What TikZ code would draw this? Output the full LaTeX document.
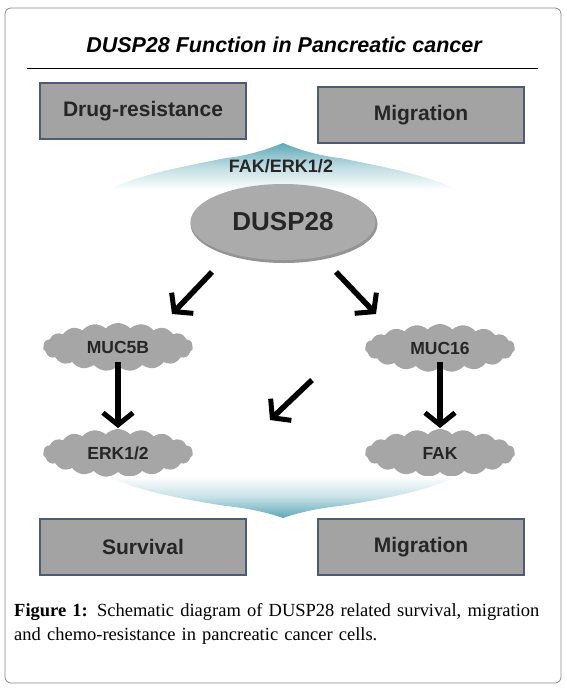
\documentclass[tikz,border=0pt]{standalone}
\usepackage{fontspec}
\setmainfont{Liberation Serif}
\setsansfont{Liberation Sans}
\usetikzlibrary{shapes.geometric,shapes.symbols,arrows.meta}
\definecolor{boxfill}{HTML}{A3A3A3}
\definecolor{boxline}{HTML}{4E5B72}
\definecolor{cloudfill}{HTML}{A6A6A6}
\definecolor{fanteal}{HTML}{5FA8B8}
\definecolor{framegray}{HTML}{8A8A8A}
\tikzset{
  outbox/.style={draw=boxline,fill=boxfill,line width=1.2pt,minimum width=206pt,minimum height=56pt,
    font=\sffamily\bfseries\fontsize{21}{24}\selectfont,text=black!85},
  cloudnode/.style={cloud,cloud puffs=19,cloud puff arc=95,aspect=3.4,fill=cloudfill,draw=none,
    minimum width=150pt,minimum height=48pt,inner sep=0pt,font=\sffamily\bfseries\fontsize{17.5}{20}\selectfont,text=black!85},
  bigarrow/.style={line width=5.5pt,-{Straight Barb[length=12pt,width=30pt,line width=5pt]}},
}
\begin{document}
\begin{tikzpicture}[x=1pt,y=-1pt]
\useasboundingbox (0,0) rectangle (566,689);
% frame
\draw[framegray,line width=0.8pt,rounded corners=6pt] (5,8) rectangle (561,683);
% title
\node[font=\sffamily\bfseries\itshape\fontsize{21.5}{25}\selectfont] (title) at (284,45) {DUSP28 Function in Pancreatic cancer};
\draw[line width=0.9pt] (27,68) -- (538,68);
% top fan
\shade[top color=fanteal,bottom color=white,middle color=fanteal!40]
  (283,143) .. controls (300,150) and (320,156) .. (340,158)
  .. controls (390,168) and (430,176) .. (457,190)
  -- (108,190) .. controls (135,176) and (175,168) .. (226,158)
  .. controls (246,156) and (266,150) .. (283,143) -- cycle;
% boxes
\node[outbox] (dr) at (143,111) {Drug-resistance};
\node[outbox] (mig1) at (421,115) {Migration};
\node[font=\sffamily\bfseries\fontsize{18}{21}\selectfont,text=black!85] (fakerk) at (281,166) {FAK/ERK1/2};
% ellipse
\node[ellipse,fill=black!42,draw=none,minimum width=187pt,minimum height=78pt] at (284,224) {};
\node[ellipse,draw=none,minimum width=185pt,minimum height=76pt,
  font=\sffamily\bfseries\fontsize{26}{30}\selectfont,text=black!85,fill=black!33] (dusp) at (283,222) {DUSP28};
% clouds
\node[cloudnode] (muc5b) at (118,347) {MUC5B};
\node[cloudnode] (muc16) at (440,348) {MUC16};
\node[cloudnode] (erk) at (118,453) {ERK1/2};
\node[cloudnode] (fak) at (440,453) {FAK};
% arrows
\coordinate (a1s) at (212,272); \coordinate (a1e) at (172,314);
\coordinate (a2s) at (336,272); \coordinate (a2e) at (376,314);
\coordinate (a3s) at (312,380); \coordinate (a3e) at (270,420);
\draw[bigarrow] (a1s) -- (a1e);
\draw[bigarrow] (a2s) -- (a2e);
\draw[bigarrow] (a3s) -- (a3e);
\draw[bigarrow] (118,362) -- (118,428);
\draw[bigarrow] (440,362) -- (440,428);
% bottom fan
\shade[bottom color=fanteal,top color=white,middle color=fanteal!35]
  (108,476) -- (457,476)
  .. controls (430,490) and (390,498) .. (340,506)
  .. controls (320,508) and (300,512) .. (283,518)
  .. controls (266,512) and (246,508) .. (226,506)
  .. controls (175,498) and (135,490) .. (108,476) -- cycle;
\node[outbox] (surv) at (143,547) {Survival};
\node[outbox] (mig2) at (421,547) {Migration};
% caption
\node[anchor=north west,align=left,text width=545pt,font=\fontsize{18.5}{24.5}\selectfont,inner sep=0pt] (cap) at (14,603)
  {\raggedright\textbf{Figure 1:} Schematic diagram of DUSP28 related survival, migration and chemo-resistance in pancreatic cancer cells.};
\end{tikzpicture}
\end{document}
